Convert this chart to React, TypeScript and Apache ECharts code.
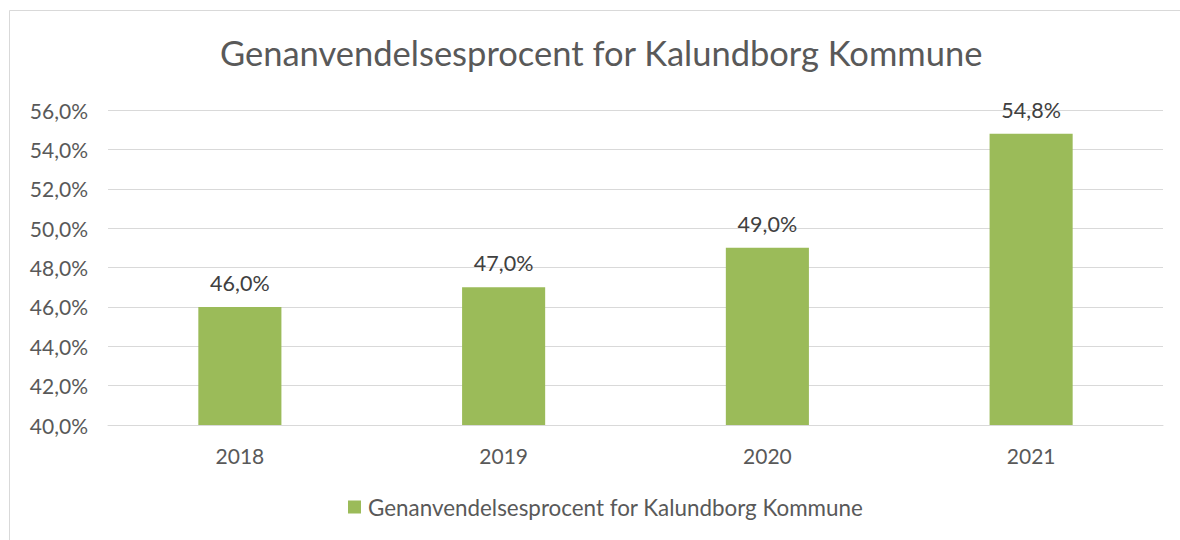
import React, { useEffect, useRef } from "react";
import * as echarts from "echarts";

const categories = ["2018", "2019", "2020", "2021"];
const values = [46.0, 47.0, 49.0, 54.8];
const seriesName = "Genanvendelsesprocent for Kalundborg Kommune";
const titleText = "Genanvendelsesprocent for Kalundborg Kommune";

const fmt = (v: number) => v.toFixed(1).replace(".", ",") + "%";

export default function App() {
  const ref = useRef<HTMLDivElement>(null);
  useEffect(() => {
    if (!ref.current) return;
    const chart = echarts.init(ref.current, null, { renderer: "svg" });
    const font = "Lato, 'Open Sans', sans-serif";
    chart.setOption({
      animation: false,
      backgroundColor: "#ffffff",
      textStyle: { fontFamily: font },
      title: {
        text: titleText,
        left: 215,
        top: 30,
        textStyle: { color: "#595959", fontSize: 34.5, fontWeight: "normal", fontFamily: font },
      },
      grid: { left: 108, right: 17, top: 110, bottom: 115 },
      legend: {
        data: [seriesName],
        bottom: 17,
        left: 343,
        itemWidth: 13,
        itemHeight: 13,
        itemGap: 6,
        icon: "rect",
        textStyle: { color: "#595959", fontSize: 22.4, fontFamily: font, padding: [0, 0, 0, 2] },
      },
      xAxis: {
        type: "category",
        data: categories,
        axisLine: { show: true, lineStyle: { color: "#D9D9D9", width: 1 } },
        axisTick: { show: false },
        axisLabel: { color: "#595959", fontSize: 21, margin: 20, fontFamily: font },
      },
      yAxis: {
        type: "value",
        min: 40,
        max: 56,
        interval: 2,
        axisLine: { show: false },
        axisTick: { show: false },
        splitLine: { lineStyle: { color: "#D9D9D9", width: 1 } },
        axisLabel: { color: "#595959", fontSize: 21, margin: 20, fontFamily: font, formatter: (v: number) => fmt(v) },
      },
      series: [
        {
          name: seriesName,
          type: "bar",
          data: values,
          barWidth: "31.5%",
          itemStyle: { color: "#9BBB59" },
          label: {
            show: true,
            position: "top",
            distance: 13,
            color: "#404040",
            fontSize: 21.5,
            fontFamily: font,
            formatter: (p: any) => fmt(p.value),
          },
        },
      ],
      graphic: [
        { type: "line", shape: { x1: 9.5, y1: 10.5, x2: 1180, y2: 10.5 }, style: { stroke: "#D9D9D9", lineWidth: 1 } },
        { type: "line", shape: { x1: 9.5, y1: 10.5, x2: 9.5, y2: 540 }, style: { stroke: "#D9D9D9", lineWidth: 1 } },
      ],
    });
    return () => chart.dispose();
  }, []);
  return <div ref={ref} style={{ position: "absolute", left: 0, top: 0, width: 1180, height: 540 }} />;
}
